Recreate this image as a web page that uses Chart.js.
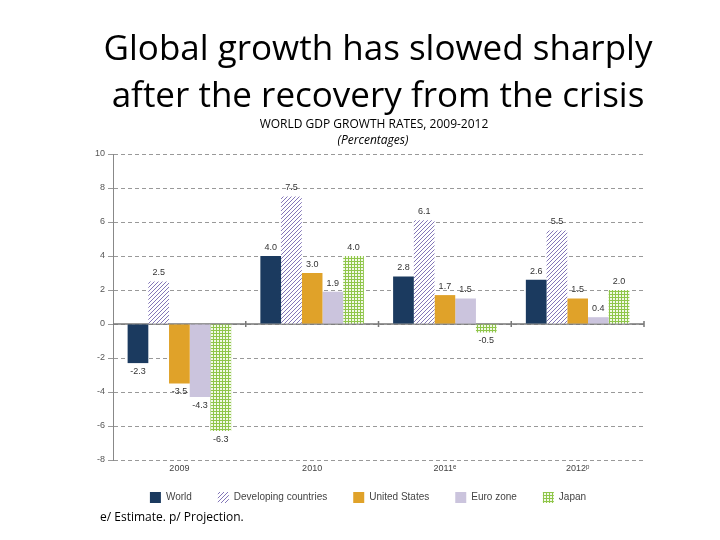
<!DOCTYPE html>
<html>
<head>
<meta charset="utf-8">
<script src="https://cdn.jsdelivr.net/npm/chart.js@4"></script>
<style>
  html, body { margin: 0; padding: 0; background: #fff; }
  #wrap { width: 720px; height: 540px; }
</style>
</head>
<body>
<div id="wrap"><canvas id="chart" width="720" height="540"></canvas></div>
<script>
// categories and series, percentages
const years = ['2009', '2010', '2011ᵉ', '2012ᵖ'];
const world = [-2.3, 4.0, 2.8, 2.6];
const developing = [2.5, 7.5, 6.1, 5.5];
const unitedStates = [-3.5, 3.0, 1.7, 1.5];
const euroZone = [-4.3, 1.9, 1.5, 0.4];
const japan = [-6.3, 4.0, -0.5, 2.0];
const yTicks = [10, 8, 6, 4, 2, 0, -2, -4, -6, -8];

// fill patterns
function hatch() {
  const c = document.createElement('canvas');
  c.width = 4; c.height = 4;
  const g = c.getContext('2d');
  g.fillStyle = '#ffffff';
  g.fillRect(0, 0, 4, 4);
  g.strokeStyle = '#8376b8';
  g.lineWidth = 1;
  g.beginPath();
  g.moveTo(0, 4); g.lineTo(4, 0);
  g.moveTo(-1, 1); g.lineTo(1, -1);
  g.moveTo(3, 5); g.lineTo(5, 3);
  g.stroke();
  return g.createPattern(c, 'repeat');
}
function grid() {
  const c = document.createElement('canvas');
  c.width = 3; c.height = 3;
  const g = c.getContext('2d');
  g.fillStyle = '#8fc64a';
  g.fillRect(0, 0, 3, 3);
  g.fillStyle = '#f3f9e8';
  g.fillRect(1, 1, 2, 2);
  return g.createPattern(c, 'repeat');
}

const texts = {
  id: 'texts',
  beforeDatasetsDraw(chart) {
    const { ctx, chartArea, scales } = chart;
    const y0 = scales.y.getPixelForValue(0);
    ctx.save();
    ctx.strokeStyle = '#777';
    ctx.lineWidth = 1.5;
    ctx.beginPath();
    ctx.moveTo(chartArea.left, y0);
    ctx.lineTo(chartArea.right, y0);
    // small separators between year groups
    const step = (chartArea.right - chartArea.left) / years.length;
    for (let i = 1; i <= years.length; i++) {
      const x = chartArea.left + step * i;
      ctx.moveTo(x, y0 - 3);
      ctx.lineTo(x, y0 + 3);
    }
    ctx.stroke();
    ctx.restore();
  },
  afterDraw(chart) {
    const { ctx, chartArea, scales } = chart;
    ctx.save();
    // value labels
    ctx.font = '9px "Liberation Sans", Arial, sans-serif';
    ctx.fillStyle = '#333';
    ctx.textAlign = 'center';
    chart.data.datasets.forEach((ds, di) => {
      chart.getDatasetMeta(di).data.forEach((bar, i) => {
        const v = ds.data[i];
        if (v >= 0) {
          ctx.textBaseline = 'bottom';
          ctx.fillText(v.toFixed(1), bar.x, bar.y - 4);
        } else {
          ctx.textBaseline = 'top';
          ctx.fillText(v.toFixed(1), bar.x, bar.y + 4);
        }
      });
    });
    // category labels under the plot
    ctx.fillStyle = '#444';
    ctx.textBaseline = 'top';
    years.forEach((yr, i) => {
      ctx.fillText(yr, scales.x.getPixelForTick(i), chartArea.bottom + 4);
    });
    // headings
    ctx.fillStyle = '#000';
    ctx.textBaseline = 'alphabetic';
    ctx.font = '35px "Open Sans", sans-serif';
    ctx.fillText('Global growth has slowed sharply', 378, 60);
    ctx.fillText('after the recovery from the crisis', 378, 107);
    ctx.font = '12px "Open Sans", sans-serif';
    ctx.fillText('WORLD GDP GROWTH RATES, 2009-2012', 374, 128);
    ctx.font = 'italic 12px "Open Sans", sans-serif';
    ctx.fillText('(Percentages)', 373, 144);
    ctx.textAlign = 'left';
    ctx.font = '12px "Open Sans", sans-serif';
    ctx.fillText('e/ Estimate. p/ Projection.', 100, 521);
    ctx.restore();
  }
};

new Chart('chart', {
  type: 'bar',
  data: {
    labels: years,
    datasets: [
      { label: 'World', data: world, backgroundColor: '#1b3a5f' },
      { label: 'Developing countries', data: developing, backgroundColor: hatch() },
      { label: 'United States', data: unitedStates, backgroundColor: '#e0a229' },
      { label: 'Euro zone', data: euroZone, backgroundColor: '#cbc4dd' },
      { label: 'Japan', data: japan, backgroundColor: grid() }
    ]
  },
  options: {
    responsive: false,
    animation: false,
    layout: { padding: { left: 92, right: 76, top: 154, bottom: 27 } },
    datasets: { bar: { categoryPercentage: 0.78, barPercentage: 1.0 } },
    scales: {
      x: {
        grid: { display: false, drawTicks: false },
        border: { display: false },
        ticks: { display: false },
        afterFit(scale) { scale.height = 6; }
      },
      y: {
        min: -8,
        max: 10,
        afterBuildTicks(scale) { scale.ticks = yTicks.map(v => ({ value: v })); },
        ticks: { color: '#555', font: { size: 9, family: '"Liberation Sans", Arial' }, padding: 3 },
        grid: { color: '#999', tickLength: 5 },
        border: { color: '#888', dash: [4, 3] }
      }
    },
    plugins: {
      legend: {
        position: 'bottom',
        labels: {
          boxWidth: 11,
          boxHeight: 11,
          padding: 26,
          color: '#444',
          font: { size: 10, family: '"Liberation Sans", Arial' }
        }
      },
      tooltip: { enabled: false }
    }
  },
  plugins: [texts]
});
</script>
</body>
</html>
